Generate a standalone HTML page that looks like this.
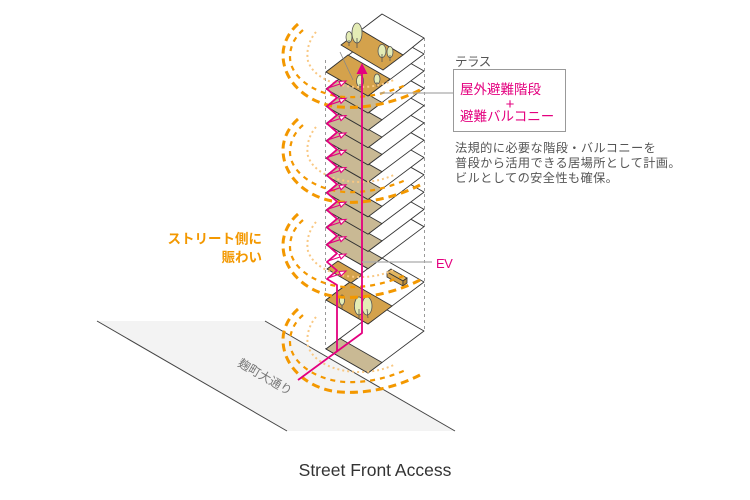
<!DOCTYPE html>
<html><head><meta charset="utf-8">
<style>
html,body{margin:0;padding:0;background:#fff;}
svg{display:block;}
text{font-family:"Liberation Sans","Noto Sans CJK JP",sans-serif;}
.w{fill:#fff;stroke:#333;stroke-width:.9;stroke-linejoin:round}
.t{fill:#c9b994;stroke:#333;stroke-width:.9;stroke-linejoin:round}
.g{fill:#d4a24c;stroke:#333;stroke-width:.9;stroke-linejoin:round}
.tr{fill:#e4ecb5;stroke:#555;stroke-width:.8}
.tk{stroke:#555;stroke-width:.8}
.o1{stroke:#f39800;stroke-width:3;stroke-dasharray:8 5;fill:none}
.o2{stroke:#f39800;stroke-width:2.2;stroke-dasharray:5 5;fill:none}
.o3{stroke:#f9c883;stroke-width:2;stroke-dasharray:2 3;fill:none}
.m{stroke:#e4007f;stroke-width:1.8;fill:none;stroke-linejoin:round}
.ma{stroke:#e4007f;stroke-width:1.1;fill:#fff}
</style></head><body>
<svg width="750" height="500" viewBox="0 0 750 500" xmlns="http://www.w3.org/2000/svg">
<!-- street -->
<polygon points="97,321 265,321 455,431 287,431" fill="#f3f3f3"/>
<line x1="97" y1="321" x2="287" y2="431" stroke="#444" stroke-width="1"/>
<line x1="265" y1="321" x2="455" y2="431" stroke="#444" stroke-width="1"/>

<!-- guides -->
<g stroke="#999" stroke-width="1" stroke-dasharray="3,3">
<line x1="325.5" y1="60" x2="325.5" y2="349"/>
<line x1="424.5" y1="38" x2="424.5" y2="331"/>
<line x1="368.5" y1="324" x2="368.5" y2="373"/>
</g>

<!-- ground floor -->
<polygon class="w" points="326,349 368,373 424,331 382,307"/>
<polygon class="t" points="326,349 340,338.5 382,362.5 368,373"/>

<!-- floor 1 -->
<polygon class="w" points="326,300 368,324 424,282 382,258"/>
<polygon class="g" points="326,300 350,282 392,306 368,324"/>
<ellipse class="tr" cx="342" cy="300" rx="2.6" ry="5"/>
<line class="tk" x1="342" y1="305" x2="342" y2="309"/>
<ellipse class="tr" cx="359" cy="306" rx="4.6" ry="9"/>
<line class="tk" x1="359" y1="309" x2="359" y2="318"/>
<ellipse class="tr" cx="367" cy="306" rx="5" ry="9"/>
<line class="tk" x1="367" y1="309" x2="368" y2="318"/>
<!-- bench -->
<polygon points="387,272 391,269 407,278 403,281" fill="#e2b660" stroke="#333" stroke-width=".8"/>
<polygon points="387,272 403,281 403,286 387,277" fill="#d4a24c" stroke="#333" stroke-width=".8"/>
<polygon points="403,281 407,278 407,283 403,286" fill="#b98a35" stroke="#333" stroke-width=".8"/>

<!-- mezzanine -->
<polygon class="g" points="327,269 338,261 362,275 351,283"/>

<!-- typical floors -->
<g transform="translate(0,244.7)"><polygon class="w" points="326,0 368,24 424,-18 382,-42"/><polygon class="t" points="326,0 340,-10.5 382,13.5 368,24"/></g>
<g transform="translate(0,227.4)"><polygon class="w" points="326,0 368,24 424,-18 382,-42"/><polygon class="t" points="326,0 340,-10.5 382,13.5 368,24"/></g>
<g transform="translate(0,210.1)"><polygon class="w" points="326,0 368,24 424,-18 382,-42"/><polygon class="t" points="326,0 340,-10.5 382,13.5 368,24"/></g>
<g transform="translate(0,192.8)"><polygon class="w" points="326,0 368,24 424,-18 382,-42"/><polygon class="t" points="326,0 340,-10.5 382,13.5 368,24"/></g>
<g transform="translate(0,175.5)"><polygon class="w" points="326,0 368,24 424,-18 382,-42"/><polygon class="t" points="326,0 340,-10.5 382,13.5 368,24"/></g>
<g transform="translate(0,158.2)"><polygon class="w" points="326,0 368,24 424,-18 382,-42"/><polygon class="t" points="326,0 340,-10.5 382,13.5 368,24"/></g>
<g transform="translate(0,140.9)"><polygon class="w" points="326,0 368,24 424,-18 382,-42"/><polygon class="t" points="326,0 340,-10.5 382,13.5 368,24"/></g>
<g transform="translate(0,123.6)"><polygon class="w" points="326,0 368,24 424,-18 382,-42"/><polygon class="t" points="326,0 340,-10.5 382,13.5 368,24"/></g>
<g transform="translate(0,106.3)"><polygon class="w" points="326,0 368,24 424,-18 382,-42"/><polygon class="t" points="326,0 340,-10.5 382,13.5 368,24"/></g>
<g transform="translate(0,89)"><polygon class="w" points="326,0 368,24 424,-18 382,-42"/><polygon class="t" points="326,0 340,-10.5 382,13.5 368,24"/></g>

<!-- floor 12 -->
<polygon class="w" points="326,72 368,96 424,54 382,30"/>
<polygon class="g" points="326,72 348,55 390,79 368,96"/>
<ellipse class="tr" cx="360" cy="81" rx="3.5" ry="6"/>
<line class="tk" x1="360" y1="84" x2="360" y2="90"/>
<ellipse class="tr" cx="377" cy="79" rx="3" ry="5"/>
<line class="tk" x1="377" y1="82" x2="377" y2="87"/>
<line x1="340" y1="52" x2="353" y2="80" stroke="#888" stroke-width=".8"/>

<!-- top floor -->
<polygon class="w" points="361,30 382,14 424,38 403,55"/>
<polygon class="g" points="341,45 361,30 403,55 383,70"/>
<ellipse class="tr" cx="349" cy="37" rx="3" ry="5.5"/>
<line class="tk" x1="349" y1="40" x2="349" y2="46"/>
<ellipse class="tr" cx="357" cy="33" rx="5" ry="10"/>
<line class="tk" x1="357" y1="38" x2="357" y2="48"/>
<ellipse class="tr" cx="382" cy="51" rx="4" ry="6.5"/>
<line class="tk" x1="382" y1="54" x2="382" y2="62"/>
<ellipse class="tr" cx="390" cy="52" rx="3" ry="5.5"/>
<line class="tk" x1="390" y1="55" x2="390" y2="61"/>

<!-- arcs -->
<g transform="translate(0,0)">
<path class="o1" d="M298,309 C289,317 283,328 283,340 C283,368 310,390 340,392 C365,394 395,388 420,375"/>
<path class="o2" d="M303,315 C295,322 290,331 290,342 C290,362 315,380 345,382 C370,383 390,377 408,369"/>
<path class="o3" d="M316,317 C309,325 306,336 308,346 C313,362 335,372 360,372 C375,372 385,369 396,364"/>
</g>
<g transform="translate(0,-95)">
<path class="o1" d="M298,309 C289,317 283,328 283,340 C283,368 310,390 340,392 C365,394 395,388 420,375"/>
<path class="o2" d="M303,315 C295,322 290,331 290,342 C290,362 315,380 345,382 C370,383 390,377 408,369"/>
<path class="o3" d="M316,317 C309,325 306,336 308,346 C313,362 335,372 360,372 C375,372 385,369 396,364"/>
</g>
<g transform="translate(0,-190)">
<path class="o1" d="M298,309 C289,317 283,328 283,340 C283,368 310,390 340,392 C365,394 395,388 420,375"/>
<path class="o2" d="M303,315 C295,322 290,331 290,342 C290,362 315,380 345,382 C370,383 390,377 408,369"/>
<path class="o3" d="M316,317 C309,325 306,336 308,346 C313,362 335,372 360,372 C375,372 385,369 396,364"/>
</g>
<g transform="translate(0,-285)">
<path class="o1" d="M298,309 C289,317 283,328 283,340 C283,368 310,390 340,392 C365,394 395,388 420,375"/>
<path class="o2" d="M303,315 C295,322 290,331 290,342 C290,362 315,380 345,382 C370,383 390,377 408,369"/>
<path class="o3" d="M316,317 C309,325 306,336 308,346 C313,362 335,372 360,372 C375,372 385,369 396,364"/>
</g>

<!-- magenta routes -->
<polyline class="m" points="298,380 362,333 362,70"/>
<polygon points="356.5,74 362,63 367.5,74" fill="#e4007f"/>
<polyline class="m" points="337,352 337,285 327,279 337,270.5 327,262 337,253.4 327,244.7 337,236 327,227.4 337,218.8 327,210.1 337,201.5 327,192.8 337,184.2 327,175.5 337,166.9 327,158.2 337,149.6 327,140.9 337,132.3 327,123.6 337,115 327,106.3 337,97.7 327,89 337,80.4"/>
<g class="ma">
<g transform="translate(0,279)"><line x1="328" y1="-1" x2="340" y2="-5"/><polygon points="346,-8 339,-7.5 341,-3"/></g>
<g transform="translate(0,262)"><line x1="328" y1="-1" x2="340" y2="-5"/><polygon points="346,-8 339,-7.5 341,-3"/></g>
<g transform="translate(0,244.7)"><line x1="328" y1="-1" x2="340" y2="-5"/><polygon points="346,-8 339,-7.5 341,-3"/></g>
<g transform="translate(0,227.4)"><line x1="328" y1="-1" x2="340" y2="-5"/><polygon points="346,-8 339,-7.5 341,-3"/></g>
<g transform="translate(0,210.1)"><line x1="328" y1="-1" x2="340" y2="-5"/><polygon points="346,-8 339,-7.5 341,-3"/></g>
<g transform="translate(0,192.8)"><line x1="328" y1="-1" x2="340" y2="-5"/><polygon points="346,-8 339,-7.5 341,-3"/></g>
<g transform="translate(0,175.5)"><line x1="328" y1="-1" x2="340" y2="-5"/><polygon points="346,-8 339,-7.5 341,-3"/></g>
<g transform="translate(0,158.2)"><line x1="328" y1="-1" x2="340" y2="-5"/><polygon points="346,-8 339,-7.5 341,-3"/></g>
<g transform="translate(0,140.9)"><line x1="328" y1="-1" x2="340" y2="-5"/><polygon points="346,-8 339,-7.5 341,-3"/></g>
<g transform="translate(0,123.6)"><line x1="328" y1="-1" x2="340" y2="-5"/><polygon points="346,-8 339,-7.5 341,-3"/></g>
<g transform="translate(0,106.3)"><line x1="328" y1="-1" x2="340" y2="-5"/><polygon points="346,-8 339,-7.5 341,-3"/></g>
<g transform="translate(0,89)"><line x1="328" y1="-1" x2="340" y2="-5"/><polygon points="346,-8 339,-7.5 341,-3"/></g>
</g>

<!-- leaders -->
<line x1="380" y1="93" x2="453" y2="93" stroke="#aaa" stroke-width="1.3"/>
<line x1="362" y1="262" x2="432" y2="262" stroke="#aaa" stroke-width="1.3"/>

<!-- terrace box -->
<rect x="453.5" y="69.5" width="112" height="62" fill="#fff" stroke="#999" stroke-width="1"/>
<text x="455" y="66" font-size="12.5" fill="#555" letter-spacing="-0.5">テラス</text>
<text x="460" y="94" font-size="13.5" fill="#e4007f">屋外避難階段</text>
<text x="510" y="109" font-size="15" fill="#e4007f" text-anchor="middle">+</text>
<text x="460" y="121" font-size="13.5" fill="#e4007f">避難バルコニー</text>

<text x="455" y="152" font-size="12.2" fill="#555" letter-spacing="0.4">法規的に必要な階段・バルコニーを</text>
<text x="455" y="167" font-size="12.2" fill="#555" letter-spacing="0.4">普段から活用できる居場所として計画。</text>
<text x="455" y="182" font-size="12.2" fill="#555" letter-spacing="0.4">ビルとしての安全性も確保。</text>

<text x="436" y="268" font-size="13" fill="#e4007f" letter-spacing="-0.5">EV</text>

<text x="262" y="243.5" font-size="13.5" font-weight="bold" fill="#f39800" text-anchor="end">ストリート側に</text>
<text x="262" y="262" font-size="13.5" font-weight="bold" fill="#f39800" text-anchor="end">賑わい</text>

<text x="265" y="381" font-size="12" fill="#777" text-anchor="middle" transform="rotate(30 265 377)">麹町大通り</text>

<text x="375" y="476" font-size="17.5" fill="#333" text-anchor="middle">Street Front Access</text>
</svg>
</body></html>
